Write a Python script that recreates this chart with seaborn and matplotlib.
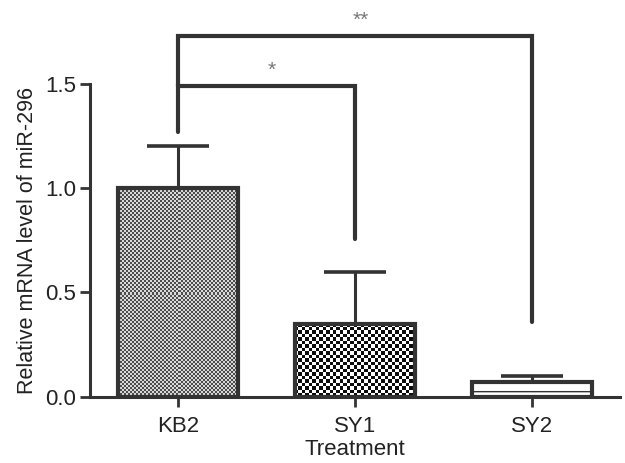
import numpy as np
import matplotlib
matplotlib.use("Agg")
import matplotlib.pyplot as plt
import seaborn as sns

# values
categories = ["KB2", "SY1", "SY2"]
means = [1.0, 0.35, 0.07]
sem = [0.20, 0.25, 0.03]

# significance brackets: (left bar, right bar), height, feet, label
bracket_pairs = [(0, 1), (0, 2)]
bracket_heights = [1.49, 1.73]
bracket_left_feet = [1.27, 1.49]
bracket_right_feet = [0.755, 0.36]
bracket_labels = ["*", "**"]

dark = "#333333"

sns.set_style("white")
plt.rcParams["font.family"] = ["Liberation Sans", "DejaVu Sans"]

fig = plt.figure(figsize=(6.25, 4.63), dpi=100)
ax = fig.add_axes([0.144, 0.143, 0.848, 0.676])

sns.barplot(x=categories, y=means, color="white", edgecolor=dark,
            linewidth=3, width=0.68, errorbar=None, ax=ax)
ax.set_xlim(-0.5, 2.5)
ax.set_ylim(0, 1.5)

# checkerboard fills for the first two bars, horizontal hatch for the third
cell_px = [2.0, 3.4]
shades = [(0.30, 0.85), (0.05, 1.0)]
for i, patch in enumerate(ax.patches[:2]):
    patch.set_facecolor("none")
    x0, y0 = patch.get_x(), patch.get_y()
    w, h = patch.get_width(), patch.get_height()
    p0 = ax.transData.transform((x0, y0))
    p1 = ax.transData.transform((x0 + w, y0 + h))
    nx = max(1, int(round(abs(p1[0] - p0[0]) / cell_px[i])))
    ny = max(1, int(round(abs(p1[1] - p0[1]) / cell_px[i])))
    board = np.add.outer(np.arange(ny), np.arange(nx)) % 2
    lo, hi = shades[i]
    img = np.where(board == 1, lo, hi)
    im = ax.imshow(img, cmap="gray", vmin=0, vmax=1, extent=[x0, x0 + w, y0, y0 + h],
                   aspect="auto", interpolation="nearest", zorder=0.5)
    im.set_clip_path(patch)
ax.patches[2].set_hatch("-")
ax.set_xlim(-0.5, 2.5)
ax.set_ylim(0, 1.5)

# upper-only error bars
eb = ax.errorbar(x=np.arange(len(categories)), y=means,
                 yerr=[np.zeros(len(sem)), sem], fmt="none", ecolor=dark,
                 elinewidth=2.2, capsize=22, capthick=2.6, zorder=3)
eb[1][0].set_visible(False)

# brackets
for (a, b), hgt, lf, rf, lab in zip(bracket_pairs, bracket_heights,
                                    bracket_left_feet, bracket_right_feet, bracket_labels):
    ax.plot([a, a, b, b], [lf, hgt, hgt, rf], color=dark, lw=3,
            solid_joinstyle="miter", clip_on=False, zorder=3)
    ax.text((a + b) / 2 + 0.03, hgt + 0.075, lab, ha="center", va="center",
            fontsize=15, color="#777777", clip_on=False)

sns.despine(ax=ax)
ax.spines["left"].set_bounds(0, 1.5)
for side in ["left", "bottom"]:
    ax.spines[side].set_linewidth(2.2)
    ax.spines[side].set_color(dark)

ax.set_yticks([0, 0.5, 1.0, 1.5])
ax.set_yticklabels(["0.0", "0.5", "1.0", "1.5"])
ax.tick_params(axis="both", length=7, width=2, color=dark, labelsize=16,
               labelcolor="#222222", direction="out", left=True, bottom=True)
ax.tick_params(axis="x", pad=7)
ax.tick_params(axis="y", pad=3)
ax.set_xlabel("Treatment", fontsize=16, color="#222222", labelpad=1)
ax.set_ylabel("Relative mRNA level of miR-296", fontsize=15.5, color="#222222", labelpad=5)

fig.savefig("out.png", dpi=100)
